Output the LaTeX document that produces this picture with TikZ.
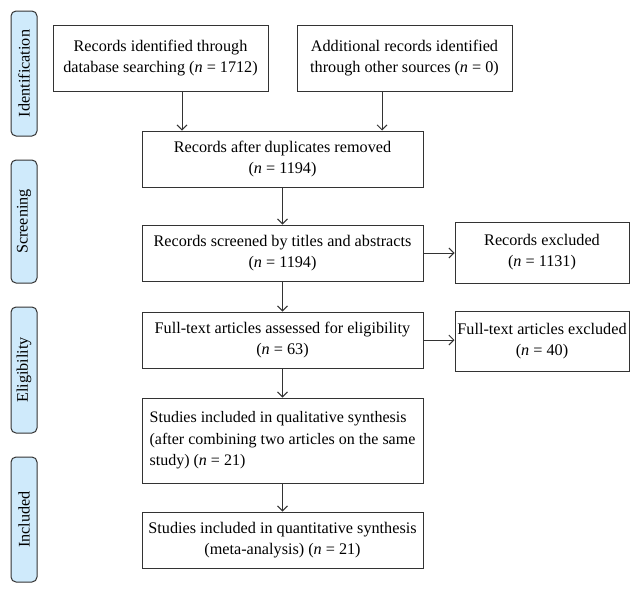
\documentclass[tikz,border=0pt]{standalone}
\usepackage{fontspec}
\setmainfont{Liberation Serif}
\usetikzlibrary{arrows.meta}
\definecolor{lbl}{HTML}{CFEAFB}
\definecolor{edge}{HTML}{333333}
\newcommand{\nn}{\textit{n}}
\begin{document}
\begin{tikzpicture}[x=1pt,y=-1pt,
  txt/.style={font=\fontsize{16.2}{21}\selectfont},
  box/.style={txt,draw=edge,line width=1pt,inner sep=2pt,align=center},
  side/.style={txt,draw=edge,line width=1pt,fill=lbl,rounded corners=5pt,rotate=90,
     minimum height=26pt,inner sep=0pt},
  arr/.style={draw=edge,line width=0.9pt,-{Straight Barb[length=5pt,width=10pt]}}]
\useasboundingbox (0,0) rectangle (640,592);
% side labels
\node[side,minimum width=125pt] (sid) at (24,73.5) {Identification};
\node[side,minimum width=123pt] (sscr) at (24,221.5) {Screening};
\node[side,minimum width=126pt] (sel) at (24,370) {Eligibility};
\node[side,minimum width=125pt] (sinc) at (24,519.5) {Included};
% boxes
\node[box,minimum width=215pt,minimum height=66pt] (b1) at (160.5,58)
  {Records identified through\\database searching (\nn{} = 1712)};
\node[box,minimum width=215pt,minimum height=66pt] (b2) at (404.5,58)
  {Additional records identified\\through other sources (\nn{} = 0)};
\node[box,minimum width=281pt,minimum height=56pt] (b3) at (282.5,159)
  {Records after duplicates removed\\(\nn{} = 1194)};
\node[box,minimum width=281pt,minimum height=56pt] (b4) at (282.5,253)
  {Records screened by titles and abstracts\\(\nn{} = 1194)};
\node[box,minimum width=174pt,minimum height=61pt,inner sep=1pt] (b5) at (542,252.5)
  {Records excluded\\(\nn{} = 1131)};
\node[box,minimum width=281pt,minimum height=56pt] (b6) at (282.5,340)
  {Full-text articles assessed for eligibility\\(\nn{} = 63)};
\node[box,minimum width=174pt,minimum height=60pt,inner sep=1pt] (b7) at (542,341)
  {Full-text articles excluded\\(\nn{} = 40)};
\node[box,minimum width=281pt,minimum height=85pt,align=left,inner sep=1pt,
  font=\fontsize{16}{21.5}\selectfont] (b8) at (282.5,440.5)
  {Studies included in qualitative synthesis\\(after combining two articles on the same\\study) (\nn{} = 21)};
\node[box,minimum width=281pt,minimum height=56pt] (b9) at (282.5,540)
  {Studies included in quantitative synthesis\\(meta-analysis) (\nn{} = 21)};
% connectors
\coordinate (c1) at (182,0);
\coordinate (c2) at (382,0);
\draw[arr] (b1.south -| c1) -- (b3.north -| c1);
\draw[arr] (b2.south -| c2) -- (b3.north -| c2);
\draw[arr] (b3) -- (b4);
\draw[arr] (b4) -- (b6);
\draw[arr] (b6) -- (b8);
\draw[arr] (b8) -- (b9);
\draw[arr] (b4.east) -- (b5.west |- b4.east);
\draw[arr] (b6.east) -- (b7.west |- b6.east);
\end{tikzpicture}
\end{document}
